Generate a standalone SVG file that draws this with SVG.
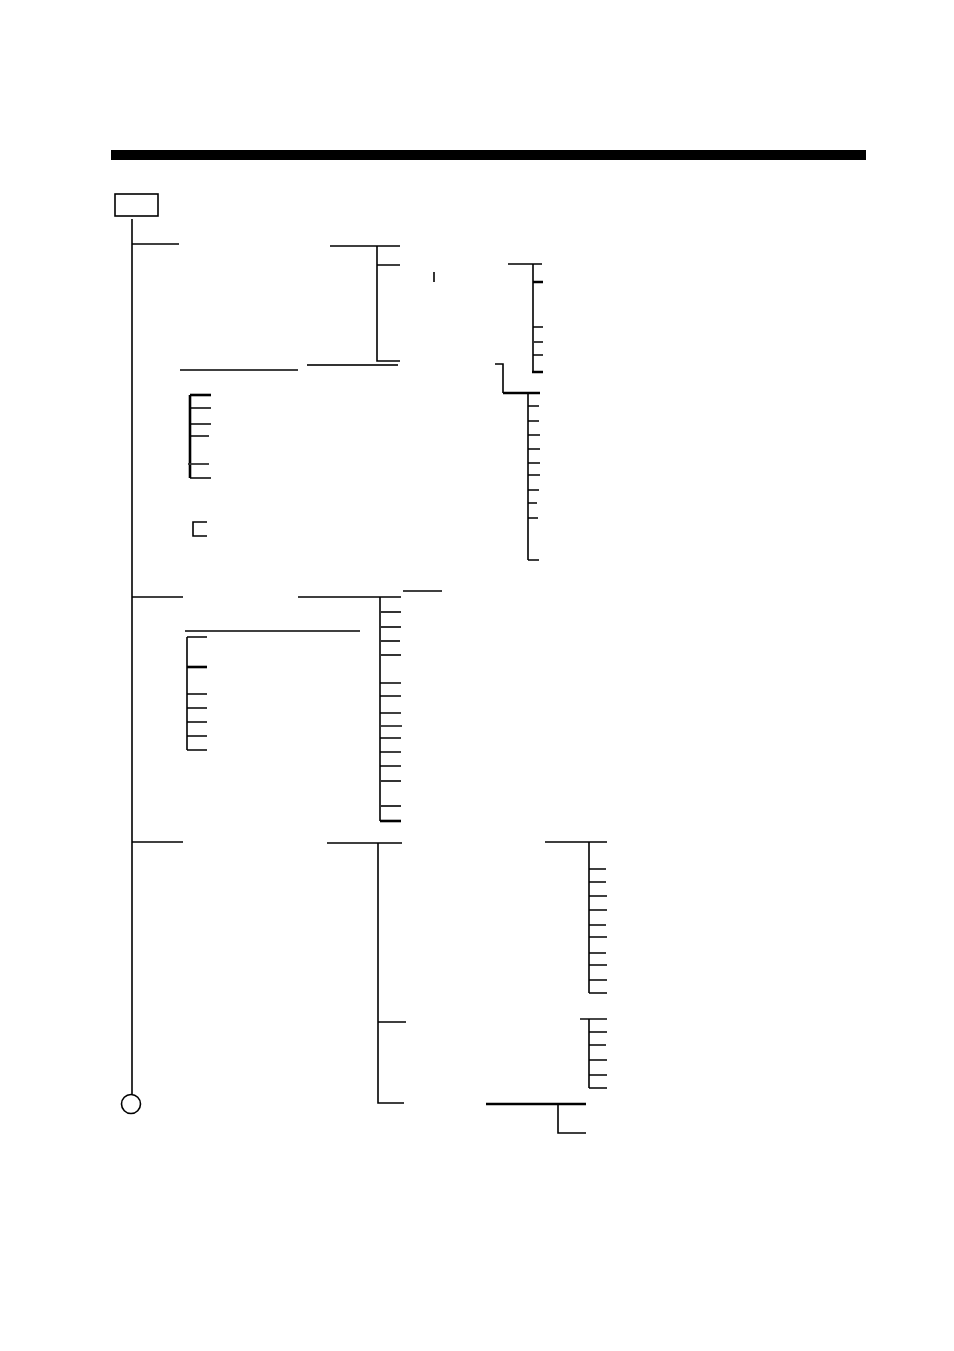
<svg xmlns="http://www.w3.org/2000/svg" width="954" height="1351" viewBox="0 0 954 1351">
<style>
.l{stroke:#000;stroke-width:1.6;fill:none}
.t{stroke:#000;stroke-width:2.6;fill:none}
.g{stroke:#333;stroke-width:1.8;fill:none}
</style>
<rect x="0" y="0" width="954" height="1351" fill="#fff"/>
<rect id="topbar" x="111" y="150" width="755" height="10" fill="#000"/>
<g id="start"><rect x="115" y="194" width="43" height="22" class="l"/></g>
<g id="end"><circle cx="131" cy="1104" r="9.5" class="l"/></g>
<g id="connectors">
<!-- main trunk -->
<path class="l" d="M132 219V1094"/>
<!-- section 1 -->
<path class="l" d="M132 244H179"/>
<path class="l" d="M330 246H400M377 246V361H400M377 265H400"/>
<path class="l" d="M180 370H298"/>
<path class="g" d="M307 365H398"/>
<path class="l" d="M434 272V282"/>
<path class="l" d="M508 264H542M533 264V372M533 327H543M534 342H543M533 355H543"/>
<path class="t" d="M533 282H543M532 372H543"/>
<path class="l" d="M495 364H503V393"/>
<path class="t" d="M503 393H540"/>
<path class="l" d="M528 393V560M528 406H539M528 421H539M528 435H540M528 449H540M528 463H540M528 475H540M528 490H539M528 503H537M528 518H538M528 560H539"/>
<path class="t" d="M190 395V478"/>
<path class="t" d="M190 395H211"/>
<path class="l" d="M190 408H211M190 424H211M190 436H209M190 478H211"/>
<path class="g" d="M188 464H209"/>
<path class="l" d="M207 522H193V536H207"/>
<!-- section 2 -->
<path class="l" d="M132 597H183"/>
<path class="l" d="M298 597H401M380 597V821"/>
<path class="l" d="M403 591H442"/>
<path class="g" d="M380 612H401M380 627H401M380 641H400M380 655H401"/>
<path class="l" d="M380 683H401M380 696H401M380 713H401"/>
<path class="g" d="M381 726H402"/>
<path class="l" d="M380 738H401M380 752H401M380 766H401"/>
<path class="g" d="M380 781H401M380 806H401"/>
<path class="t" d="M380 821H401"/>
<path class="l" d="M185 631H360"/>
<path class="l" d="M187 637V750M187 637H207M187 694H207M187 708H207M187 722H207M187 736H207M187 750H207"/>
<path class="t" d="M187 667H207"/>
<!-- section 3 -->
<path class="l" d="M132 842H183"/>
<path class="l" d="M327 843H402M378 843V1103H404M378 1022H406"/>
<path class="l" d="M545 842H607M589 842V993M589 869H606M589 882H606M589 896H607M589 910H607M589 925H606M589 937H607M589 953H606M589 965H607M589 980H607M589 993H607"/>
<path class="g" d="M580 1019H607"/>
<path class="l" d="M589 1019V1088M589 1032H607M589 1045H606M589 1060H607M589 1075H607M589 1088H607"/>
<path class="t" d="M486 1104H586"/>
<path class="l" d="M558 1104V1133H586"/>
</g>
</svg>
